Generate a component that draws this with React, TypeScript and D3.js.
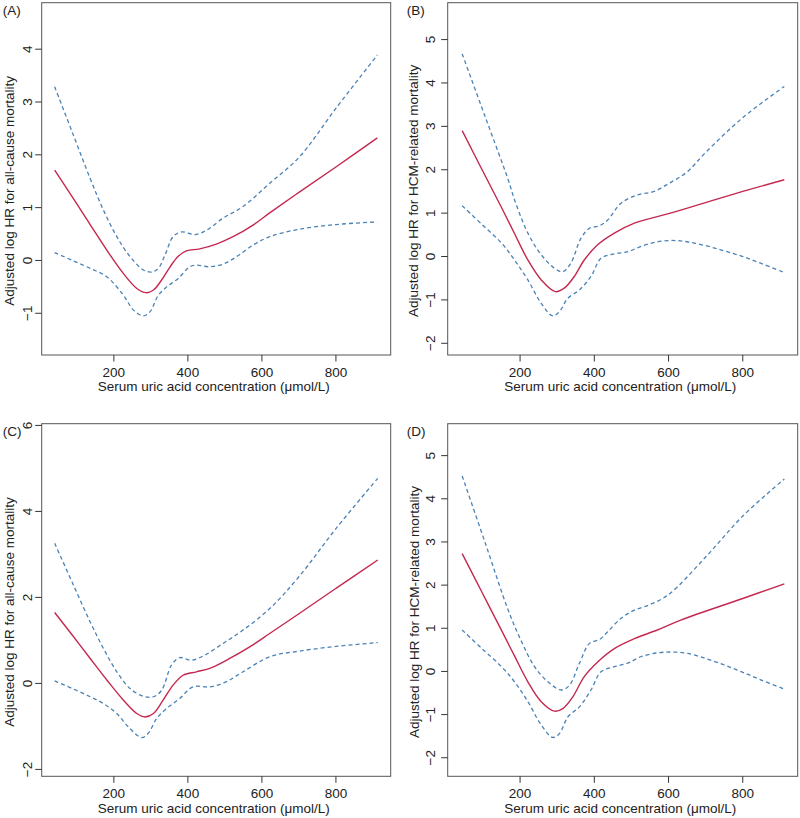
import React from "react";
import * as d3 from "d3";

// ---- data (x: serum uric acid µmol/L, y: adjusted log HR) ----
const xTicks = [200, 400, 600, 800];
const xDomain: [number, number] = [5, 948];

const estA: [number, number][] = [[40,1.71],[88,1.20],[136,0.68],[190,0.10],[226,-0.25],[262,-0.53],[287,-0.61],[307,-0.56],[329,-0.37],[352,-0.12],[374,0.08],[396,0.18],[432,0.22],[477,0.31],[522,0.45],[576,0.67],[621,0.90],[700,1.29],[800,1.77],[912,2.32]];
const upperA: [number, number][] = [[40,3.29],[88,2.42],[136,1.55],[172,0.95],[208,0.45],[244,0.07],[280,-0.18],[302,-0.22],[320,-0.15],[338,0.10],[360,0.45],[383,0.54],[419,0.49],[450,0.57],[495,0.80],[549,1.02],[621,1.46],[700,1.95],[800,2.88],[912,3.89]];
const lowerA: [number, number][] = [[40,0.15],[88,0.0],[136,-0.15],[181,-0.31],[226,-0.66],[253,-0.94],[280,-1.05],[298,-0.97],[320,-0.66],[343,-0.50],[374,-0.34],[405,-0.12],[423,-0.09],[459,-0.12],[495,-0.07],[531,0.07],[576,0.29],[621,0.45],[700,0.59],[800,0.68],[912,0.73]];

const estB: [number, number][] = [[44,2.90],[97,2.01],[150,1.13],[185,0.53],[221,-0.08],[257,-0.54],[295,-0.81],[319,-0.73],[346,-0.46],[373,-0.08],[409,0.27],[454,0.54],[508,0.77],[570,0.92],[633,1.07],[800,1.50],[912,1.77]];
const upperB: [number, number][] = [[44,4.67],[106,3.22],[168,1.77],[185,1.31],[221,0.54],[257,0.04],[293,-0.27],[315,-0.35],[337,-0.15],[364,0.42],[387,0.65],[414,0.71],[436,0.84],[472,1.23],[517,1.42],[561,1.50],[600,1.68],[650,1.95],[700,2.40],[800,3.20],[912,3.92]];
const lowerB: [number, number][] = [[44,1.17],[97,0.74],[150,0.31],[185,-0.08],[221,-0.54],[257,-1.08],[288,-1.37],[306,-1.27],[329,-0.96],[360,-0.77],[391,-0.46],[418,-0.04],[454,0.06],[490,0.11],[525,0.23],[570,0.34],[610,0.37],[650,0.34],[700,0.25],[750,0.13],[800,0.0],[850,-0.16],[912,-0.37]];

const estC: [number, number][] = [[40,1.65],[88,1.12],[136,0.58],[181,0.08],[226,-0.39],[262,-0.70],[284,-0.78],[307,-0.70],[333,-0.39],[360,-0.04],[387,0.19],[423,0.27],[459,0.35],[513,0.58],[567,0.85],[621,1.16],[700,1.62],[800,2.21],[913,2.87]];
const upperC: [number, number][] = [[40,3.26],[88,2.34],[136,1.43],[172,0.81],[208,0.27],[244,-0.12],[280,-0.30],[307,-0.31],[329,-0.16],[356,0.43],[378,0.60],[410,0.54],[446,0.66],[495,0.93],[549,1.24],[621,1.74],[700,2.48],[800,3.60],[913,4.77]];
const lowerC: [number, number][] = [[40,0.06],[88,-0.12],[136,-0.31],[172,-0.47],[208,-0.70],[239,-1.01],[275,-1.26],[293,-1.16],[316,-0.81],[343,-0.58],[378,-0.35],[414,-0.08],[459,-0.08],[504,0.04],[549,0.27],[621,0.62],[700,0.75],[800,0.86],[913,0.95]];

const estD: [number, number][] = [[44,2.73],[97,1.84],[150,0.95],[185,0.36],[221,-0.24],[257,-0.70],[293,-0.92],[315,-0.86],[342,-0.59],[373,-0.12],[409,0.22],[454,0.53],[508,0.76],[570,0.96],[633,1.19],[800,1.69],[912,2.03]];
const upperD: [number, number][] = [[44,4.53],[106,2.98],[168,1.42],[204,0.69],[239,0.11],[275,-0.24],[311,-0.43],[333,-0.32],[360,0.19],[387,0.65],[414,0.74],[436,0.92],[472,1.23],[508,1.42],[550,1.55],[600,1.78],[700,2.65],[800,3.60],[912,4.46]];
const lowerD: [number, number][] = [[44,0.96],[97,0.53],[150,0.11],[185,-0.24],[221,-0.70],[257,-1.24],[288,-1.53],[306,-1.44],[329,-1.05],[360,-0.82],[391,-0.43],[418,-0.01],[454,0.11],[490,0.19],[525,0.34],[570,0.43],[610,0.45],[650,0.42],[700,0.30],[750,0.15],[800,-0.02],[850,-0.20],[912,-0.41]];

const yTicksA = [-1, 0, 1, 2, 3, 4];
const yTicksB = [-2, -1, 0, 1, 2, 3, 4, 5];
const yTicksC = [-2, 0, 2, 4, 6];
const yTicksD = [-2, -1, 0, 1, 2, 3, 4, 5];

const yDomainA: [number, number] = [-1.79, 4.88];
const yDomainB: [number, number] = [-2.27, 5.85];
const yDomainC: [number, number] = [-2.16, 6.04];
const yDomainD: [number, number] = [-2.43, 5.74];

const xTitle = "Serum uric acid concentration (\u03bcmol/L)";
const titleAll = "Adjusted log HR for all-cause mortality";
const titleHCM = "Adjusted log HR for HCM-related mortality";

const RED = "#C4284F";
const BLUE = "#4A82B6";
const AXIS = "#333";
const FONT = "'Liberation Sans', Arial, Helvetica, sans-serif";
const FS = 13.5;

type Box = { l: number; r: number; t: number; b: number };

interface PanelProps {
  label: string;
  est: [number, number][];
  up: [number, number][];
  lo: [number, number][];
  yDomain: [number, number];
  yTicks: number[];
  yTitle: string;
  box: Box;
  tickOff: number;
  titleOff: number;
}

function Panel(p: PanelProps) {
  const { box } = p;
  const x = d3.scaleLinear().domain(xDomain).range([box.l, box.r]);
  const y = d3.scaleLinear().domain(p.yDomain).range([box.b, box.t]);
  const line = d3
    .line<[number, number]>()
    .x((d) => x(d[0]))
    .y((d) => y(d[1]))
    .curve(d3.curveCatmullRom.alpha(0.5));
  const tickLen = 6.5;
  const labelX = box.l - p.tickOff;
  const titleX = box.l - p.titleOff;
  const midY = (box.t + box.b) / 2 + 12;
  const panelLeft = box.l < 200 ? 2.7 : 406.7;
  return (
    <g>
      <text x={panelLeft} y={box.t + 11.8} fontSize={FS} fill="#222" fontFamily={FONT}>
        {p.label}
      </text>
      <rect x={box.l} y={box.t} width={box.r - box.l} height={box.b - box.t} fill="none" stroke="#555" strokeWidth={1} />
      {xTicks.map((t) => (
        <g key={"x" + t}>
          <line x1={x(t)} x2={x(t)} y1={box.b} y2={box.b + tickLen} stroke={AXIS} strokeWidth={1} />
          <text x={x(t)} y={box.b + 21.7} textAnchor="middle" fontSize={FS} fill="#222" fontFamily={FONT}>
            {t}
          </text>
        </g>
      ))}
      <text x={(box.l + box.r) / 2 - 2.5} y={box.b + 36.3} textAnchor="middle" fontSize={FS} fill="#222" fontFamily={FONT}>
        {xTitle}
      </text>
      {p.yTicks.map((t) => (
        <g key={"y" + t}>
          <line x1={box.l - tickLen} x2={box.l} y1={y(t)} y2={y(t)} stroke={AXIS} strokeWidth={1} />
          <text
            x={labelX}
            y={y(t)}
            transform={`rotate(-90, ${labelX}, ${y(t)})`}
            textAnchor="middle"
            fontSize={FS}
            fill="#222"
            fontFamily={FONT}
          >
            {t < 0 ? "\u2212" + Math.abs(t) : String(t)}
          </text>
        </g>
      ))}
      <text
        x={titleX}
        y={midY}
        transform={`rotate(-90, ${titleX}, ${midY})`}
        textAnchor="middle"
        fontSize={FS}
        fill="#222"
        fontFamily={FONT}
      >
        {p.yTitle}
      </text>
      <path d={line(p.up) || ""} fill="none" stroke={BLUE} strokeWidth={1.3} strokeDasharray="4,3" />
      <path d={line(p.lo) || ""} fill="none" stroke={BLUE} strokeWidth={1.3} strokeDasharray="4,3" />
      <path d={line(p.est) || ""} fill="none" stroke={RED} strokeWidth={1.4} />
    </g>
  );
}

export default function App() {
  const leftBoxTop: Box = { l: 41.7, r: 390.7, t: 2.7, b: 355 };
  const rightBoxTop: Box = { l: 447.7, r: 797.7, t: 2.7, b: 355 };
  const leftBoxBot: Box = { l: 41.7, r: 390.7, t: 423.7, b: 776.3 };
  const rightBoxBot: Box = { l: 447.7, r: 797.7, t: 423.7, b: 776.3 };
  return (
    <svg
      width={800}
      height={818}
      style={{ position: "absolute", left: 0, top: 0, background: "#fff", display: "block" }}
    >
      <rect x={0} y={0} width={800} height={818} fill="#fff" />
      <Panel label="(A)" est={estA} up={upperA} lo={lowerA} yDomain={yDomainA} yTicks={yTicksA} yTitle={titleAll} box={leftBoxTop} tickOff={10} titleOff={27.7} />
      <Panel label="(B)" est={estB} up={upperB} lo={lowerB} yDomain={yDomainB} yTicks={yTicksB} yTitle={titleHCM} box={rightBoxTop} tickOff={12.7} titleOff={29.2} />
      <Panel label="(C)" est={estC} up={upperC} lo={lowerC} yDomain={yDomainC} yTicks={yTicksC} yTitle={titleAll} box={leftBoxBot} tickOff={10} titleOff={27.7} />
      <Panel label="(D)" est={estD} up={upperD} lo={lowerD} yDomain={yDomainD} yTicks={yTicksD} yTitle={titleHCM} box={rightBoxBot} tickOff={12.7} titleOff={29.2} />
    </svg>
  );
}
